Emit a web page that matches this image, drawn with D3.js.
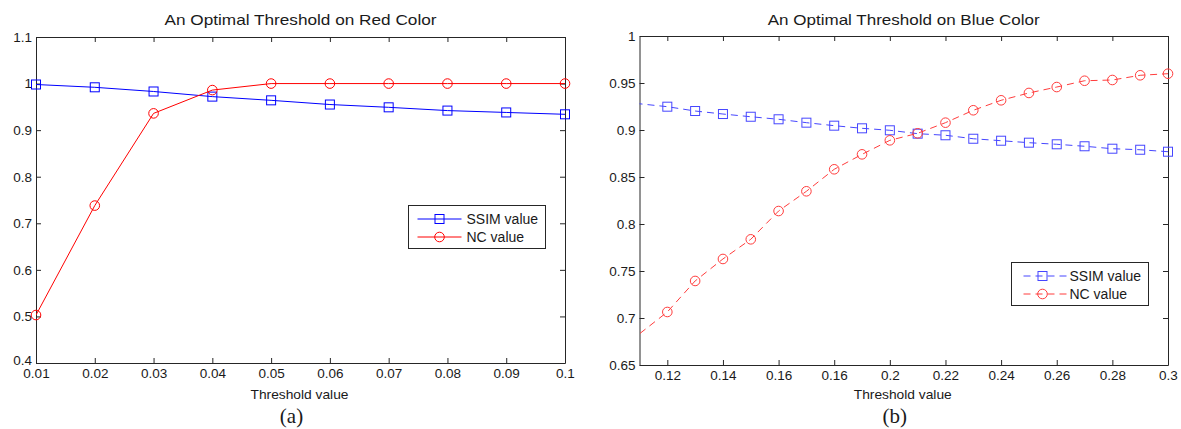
<!DOCTYPE html>
<html>
<head>
<meta charset="utf-8">
<style>
  body {
    margin: 0;
    background: #fff
  }
  text {
    font-family: "Liberation Sans", Arial, sans-serif;
    fill: #1a1a1a
  }
</style>
<script type="text/javascript" src="https://d3js.org/d3.v7.min.js"></script>
</head>
<body>
<svg id="chart"></svg>
<script type="text/javascript">
let width = 1181,
    height = 429

// panel (a): red colour channel
let redX = [0.01, 0.02, 0.03, 0.04, 0.05, 0.06, 0.07, 0.08, 0.09, 0.1]
let redSSIM = [0.998, 0.992, 0.983, 0.972, 0.964, 0.955, 0.949, 0.942, 0.938, 0.934]
let redNC = [0.503, 0.738, 0.936, 0.986, 1.0, 1.0, 1.0, 1.0, 1.0, 1.0]
let redXTicks = [0.01, 0.02, 0.03, 0.04, 0.05, 0.06, 0.07, 0.08, 0.09, 0.1]
let redXTickLabels = ['0.01', '0.02', '0.03', '0.04', '0.05', '0.06', '0.07', '0.08', '0.09', '0.1']
let redYTicks = [0.4, 0.5, 0.6, 0.7, 0.8, 0.9, 1.0, 1.1]
let redYTickLabels = ['0.4', '0.5', '0.6', '0.7', '0.8', '0.9', '1', '1.1']

// panel (b): blue colour channel (first point lies left of the visible range)
let blueX = [0.10, 0.12, 0.13, 0.14, 0.15, 0.16, 0.17, 0.18, 0.19, 0.2, 0.21,
             0.22, 0.23, 0.24, 0.25, 0.26, 0.27, 0.28, 0.29, 0.3]
let blueSSIM = [0.931, 0.9248, 0.9202, 0.917, 0.9141, 0.9114, 0.9078, 0.9046, 0.9018, 0.8997, 0.8961,
                0.8944, 0.8907, 0.8886, 0.8865, 0.8848, 0.8827, 0.8801, 0.879, 0.8769]
let blueNC = [0.660, 0.7064, 0.7394, 0.7628, 0.7837, 0.8138, 0.8348, 0.8582, 0.8741, 0.889, 0.8965,
              0.9078, 0.921, 0.9316, 0.9394, 0.9457, 0.9524, 0.9532, 0.9582, 0.9599]
let blueXTicks = [0.12, 0.14, 0.16, 0.18, 0.2, 0.22, 0.24, 0.26, 0.28, 0.3]
let blueXTickLabels = ['0.12', '0.14', '0.16', '0.16', '0.2', '0.22', '0.24', '0.26', '0.28', '0.3']
let blueYTicks = [0.65, 0.7, 0.75, 0.8, 0.85, 0.9, 0.95, 1.0]
let blueYTickLabels = ['0.65', '0.7', '0.75', '0.8', '0.85', '0.9', '0.95', '1']

let seriesNames = ['SSIM value', 'NC value']

let svg = d3.select('#chart')
    .attr('width', width)
    .attr('height', height)

svg.append('rect')
   .attr('width', width)
   .attr('height', height)
   .attr('fill', '#fff')

function drawPanel(p) {
  let x = d3.scaleLinear().domain(p.xDomain).range([p.left, p.right])
  let y = d3.scaleLinear().domain(p.yDomain).range([p.bottom, p.top])
  let g = svg.append('g')

  svg.append('clipPath')
     .attr('id', p.id + '-clip')
     .append('rect')
     .attr('x', p.left).attr('y', p.top)
     .attr('width', p.right - p.left).attr('height', p.bottom - p.top)

  // box axes with inward ticks
  g.append('g')
   .attr('transform', 'translate(0,' + p.bottom + ')')
   .call(d3.axisBottom(x).tickValues(p.xTicks).tickSize(-5).tickSizeOuter(0).tickPadding(5)
         .tickFormat(function(d, i) { return p.xTickLabels[i] }))
  g.append('g')
   .attr('transform', 'translate(0,' + p.top + ')')
   .call(d3.axisTop(x).tickValues(p.xTicks).tickSize(-5).tickSizeOuter(0).tickFormat(''))
  let yAxis = g.append('g')
   .attr('transform', 'translate(' + p.left + ',0)')
   .call(d3.axisLeft(y).tickValues(p.yTicks).tickSize(-5).tickSizeOuter(0).tickPadding(4)
         .tickFormat(function(d, i) { return p.yTickLabels[i] }))
  // lowest y label sits a little higher where it meets the first x label
  if (p.liftFirstY) {
    yAxis.selectAll('.tick text').filter(function(d, i) { return i == 0 }).attr('y', -3)
  }
  g.append('g')
   .attr('transform', 'translate(' + p.right + ',0)')
   .call(d3.axisRight(y).tickValues(p.yTicks).tickSize(-5).tickSizeOuter(0).tickFormat(''))

  g.selectAll('.domain, .tick line').attr('stroke', '#262626')
  g.selectAll('.tick text')
   .attr('font-size', 13.5)
   .attr('font-family', '"Liberation Sans", Arial, sans-serif')
   .attr('fill', '#1a1a1a')

  // titles
  let cx = (p.left + p.right) / 2
  svg.append('text')
     .attr('x', cx).attr('y', 25)
     .attr('text-anchor', 'middle')
     .attr('font-size', 15)
     .attr('textLength', 272).attr('lengthAdjust', 'spacingAndGlyphs')
     .text(p.title)
  svg.append('text')
     .attr('x', cx - 1).attr('y', 399)
     .attr('text-anchor', 'middle')
     .attr('font-size', 13)
     .attr('textLength', 98).attr('lengthAdjust', 'spacingAndGlyphs')
     .text('Threshold value')
  svg.append('text')
     .attr('x', cx - 9).attr('y', 423)
     .attr('text-anchor', 'middle')
     .attr('font-size', 21)
     .style('font-family', '"Liberation Serif", "Times New Roman", serif')
     .text(p.caption)

  let line = d3.line()
      .x(function(d) { return x(d[0]) })
      .y(function(d) { return y(d[1]) })

  let series = [
    {values: p.ssim, color: p.blue, marker: 'square'},
    {values: p.nc, color: p.red, marker: 'circle'}
  ]

  series.forEach(function(s) {
    let pts = p.xs.map(function(v, i) { return [v, s.values[i]] })
    svg.append('path')
       .datum(pts)
       .attr('clip-path', 'url(#' + p.id + '-clip)')
       .attr('fill', 'none')
       .attr('stroke', s.color)
       .attr('stroke-width', 1)
       .attr('stroke-dasharray', p.dash)
       .attr('d', line)

    let visible = pts.filter(function(d) { return d[0] >= p.xDomain[0] - 1e-9 })
    if (s.marker == 'square') {
      svg.selectAll(null)
         .data(visible).enter()
         .append('rect')
         .attr('x', function(d) { return x(d[0]) - 4.5 })
         .attr('y', function(d) { return y(d[1]) - 4.5 })
         .attr('width', 9).attr('height', 9)
         .attr('fill', 'none').attr('stroke', s.color)
    } else {
      svg.selectAll(null)
         .data(visible).enter()
         .append('circle')
         .attr('cx', function(d) { return x(d[0]) })
         .attr('cy', function(d) { return y(d[1]) })
         .attr('r', 4.8)
         .attr('fill', 'none').attr('stroke', s.color)
    }
  })

  // legend
  let lg = svg.append('g').attr('transform', 'translate(' + p.legend[0] + ',' + p.legend[1] + ')')
  lg.append('rect')
    .attr('width', 137).attr('height', 43)
    .attr('fill', '#fff').attr('stroke', '#262626')
  series.forEach(function(s, i) {
    let ly = 13.5 + i * 18
    lg.append('line')
      .attr('x1', p.legendLine[0]).attr('x2', p.legendLine[1])
      .attr('y1', ly).attr('y2', ly)
      .attr('stroke', s.color)
      .attr('stroke-dasharray', p.dash)
    if (s.marker == 'square') {
      lg.append('rect')
        .attr('x', 31 - 4.5).attr('y', ly - 4.5)
        .attr('width', 9).attr('height', 9)
        .attr('fill', 'none').attr('stroke', s.color)
    } else {
      lg.append('circle')
        .attr('cx', 31).attr('cy', ly).attr('r', 4.8)
        .attr('fill', 'none').attr('stroke', s.color)
    }
    lg.append('text')
      .attr('x', 58).attr('y', ly + 5)
      .attr('font-size', 14)
      .text(seriesNames[i])
  })
}

drawPanel({
  id: 'red', title: 'An Optimal Threshold on Red Color', caption: '(a)',
  left: 36, right: 565, top: 37, bottom: 363,
  xDomain: [0.01, 0.1], yDomain: [0.4, 1.1],
  xTicks: redXTicks, xTickLabels: redXTickLabels,
  yTicks: redYTicks, yTickLabels: redYTickLabels,
  xs: redX, ssim: redSSIM, nc: redNC,
  blue: '#0000ff', red: '#ff0000', dash: null, liftFirstY: true,
  legend: [408.5, 205.5], legendLine: [9, 53]
})

drawPanel({
  id: 'blue', title: 'An Optimal Threshold on Blue Color', caption: '(b)',
  left: 639.5, right: 1168, top: 36, bottom: 365,
  xDomain: [0.11, 0.3], yDomain: [0.65, 1.0],
  xTicks: blueXTicks, xTickLabels: blueXTickLabels,
  yTicks: blueYTicks, yTickLabels: blueYTickLabels,
  xs: blueX, ssim: blueSSIM, nc: blueNC,
  blue: '#4646ff', red: '#ff3c3c', dash: '7,5', liftFirstY: false,
  legend: [1011.5, 262.5], legendLine: [12, 55]
})
</script>
</body>
</html>
